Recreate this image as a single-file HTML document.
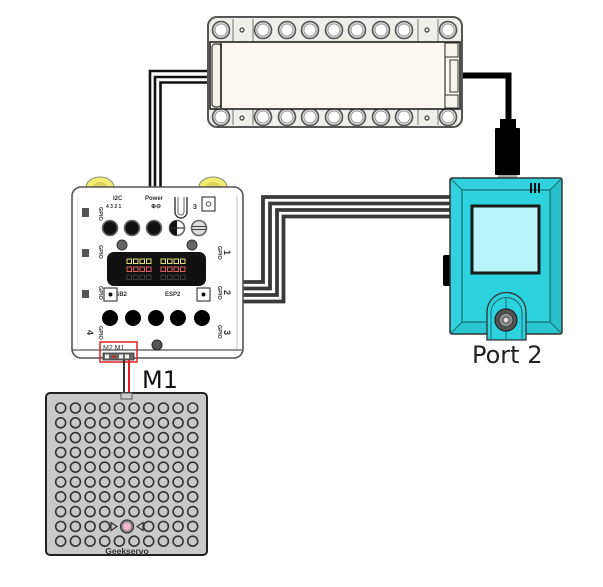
<!DOCTYPE html>
<html><head><meta charset="utf-8"><style>
html,body{margin:0;padding:0;background:#fff;}
svg{display:block;}
</style></head><body>
<svg width="603" height="587" viewBox="0 0 603 587" xmlns="http://www.w3.org/2000/svg">
<rect width="603" height="587" fill="#fff"/>

<!-- wires top-left (controller to top board) -->
<g fill="none" stroke="#111" stroke-width="2.6">
<path d="M209 71 H150 V188"/>
<path d="M209 77 H155 V188"/>
<path d="M209 82.5 H160.5 V188"/>
</g>

<!-- wire top board to device -->
<path d="M456 75.5 H508.5 V121" fill="none" stroke="#000" stroke-width="6"/>

<!-- wires controller to device -->
<g fill="none" stroke="#3a3a3a" stroke-width="3.8">
<path d="M241 282 H263 V197 H451"/>
<path d="M241 288.5 H270 V203.5 H451"/>
<path d="M241 295 H277 V210 H451"/>
<path d="M241 301.5 H283.5 V216.5 H451"/>
</g>

<!-- TOP BOARD -->
<rect x="208" y="17" width="254" height="110" rx="9" fill="#eeeeeb" stroke="#555" stroke-width="2"/>
<g stroke="#777" stroke-width="1">
<line x1="233" y1="19" x2="233" y2="42"/><line x1="253" y1="19" x2="253" y2="42"/>
<line x1="418" y1="19" x2="418" y2="42"/><line x1="438" y1="19" x2="438" y2="42"/>
<line x1="233" y1="109" x2="233" y2="125"/><line x1="253" y1="109" x2="253" y2="125"/>
<line x1="418" y1="109" x2="418" y2="125"/><line x1="438" y1="109" x2="438" y2="125"/>
</g>
<g fill="#dcdcdc" stroke="#555" stroke-width="1.6">
<circle cx="221" cy="30" r="8.5"/><circle cx="263" cy="30" r="8.5"/><circle cx="287" cy="30" r="8.5"/><circle cx="310" cy="30" r="8.5"/><circle cx="334" cy="30" r="8.5"/><circle cx="357" cy="30" r="8.5"/><circle cx="381" cy="30" r="8.5"/><circle cx="404" cy="30" r="8.5"/><circle cx="448" cy="30" r="8.5"/>
<circle cx="221" cy="117" r="8.5"/><circle cx="263" cy="117" r="8.5"/><circle cx="287" cy="117" r="8.5"/><circle cx="310" cy="117" r="8.5"/><circle cx="334" cy="117" r="8.5"/><circle cx="357" cy="117" r="8.5"/><circle cx="381" cy="117" r="8.5"/><circle cx="404" cy="117" r="8.5"/><circle cx="448" cy="117" r="8.5"/>
</g>
<g fill="#fff" stroke="#999" stroke-width="1">
<circle cx="221" cy="30" r="6"/><circle cx="263" cy="30" r="6"/><circle cx="287" cy="30" r="6"/><circle cx="310" cy="30" r="6"/><circle cx="334" cy="30" r="6"/><circle cx="357" cy="30" r="6"/><circle cx="381" cy="30" r="6"/><circle cx="404" cy="30" r="6"/><circle cx="448" cy="30" r="6"/>
<circle cx="221" cy="117" r="6"/><circle cx="263" cy="117" r="6"/><circle cx="287" cy="117" r="6"/><circle cx="310" cy="117" r="6"/><circle cx="334" cy="117" r="6"/><circle cx="357" cy="117" r="6"/><circle cx="381" cy="117" r="6"/><circle cx="404" cy="117" r="6"/><circle cx="448" cy="117" r="6"/>
</g>
<g fill="none" stroke="#444" stroke-width="1.2">
<circle cx="242" cy="30" r="2"/><circle cx="427" cy="30" r="2"/><circle cx="242" cy="118" r="2"/><circle cx="427" cy="118" r="2"/>
</g>
<rect x="210" y="42" width="250" height="67" fill="#fbf8f1" stroke="#222" stroke-width="1.6"/>
<rect x="212" y="44" width="9" height="63" rx="3" fill="#f5f2ea" stroke="#333" stroke-width="1.2"/>
<line x1="221" y1="43" x2="221" y2="108" stroke="#222" stroke-width="1.6"/>
<line x1="445" y1="43" x2="445" y2="108" stroke="#333" stroke-width="1.2"/>
<rect x="445" y="43" width="13" height="14" fill="#f7f4ec" stroke="#333" stroke-width="1"/>
<rect x="450" y="60" width="8" height="32" fill="#f7f4ec" stroke="#333" stroke-width="1"/>
<rect x="445" y="95" width="13" height="13" fill="#f7f4ec" stroke="#333" stroke-width="1"/>

<!-- DEVICE connector -->
<rect x="500" y="119" width="16" height="10" fill="#000"/>
<rect x="495" y="128" width="25" height="47" rx="1" fill="#000"/>
<rect x="498" y="175" width="19" height="3" fill="#aaa"/>

<!-- PORT 2 DEVICE -->
<rect x="443" y="255" width="8" height="31" rx="2" fill="#000"/>
<rect x="450" y="178" width="112" height="156" rx="2" fill="#2fd2de" stroke="#333" stroke-width="1.5"/>
<path d="M550 190 L561 179 L561 333 L550 322 Z" fill="#27bfcb"/>
<path d="M462 322 L451 333 L561 333 L550 322 Z" fill="#29c6d2"/>
<rect x="462" y="190" width="88" height="132" fill="#2cd3df" stroke="#1d6a72" stroke-width="1.2"/>
<g stroke="#1d6a72" stroke-width="1">
<line x1="451" y1="179" x2="462" y2="190"/><line x1="561" y1="179" x2="550" y2="190"/>
<line x1="451" y1="333" x2="462" y2="322"/><line x1="561" y1="333" x2="550" y2="322"/>
</g>
<g stroke="#111" stroke-width="2">
<line x1="531" y1="183" x2="531" y2="193"/><line x1="535" y1="183" x2="535" y2="193"/><line x1="539" y1="183" x2="539" y2="193"/>
</g>
<rect x="472" y="206" width="67" height="67" fill="#b8f5fa" stroke="#1a1a1a" stroke-width="3"/>
<path d="M487 340 V312 A19.5 19.5 0 0 1 526 312 V340 Z" fill="#2cd3df" stroke="#333" stroke-width="1.3"/>
<path d="M491 340 V313 A15.5 15.5 0 0 1 522 313 V340" fill="none" stroke="#1d6a72" stroke-width="1"/>
<line x1="506" y1="297" x2="506" y2="340" stroke="#1d6a72" stroke-width="1"/>
<circle cx="506" cy="320" r="11" fill="#555" stroke="#222" stroke-width="1.2"/>
<circle cx="506" cy="320" r="7" fill="#8a8a8a" stroke="#333" stroke-width="1"/>
<circle cx="506" cy="320" r="3" fill="#ddd" stroke="#333" stroke-width="0.8"/>
<text x="472" y="363" font-family="DejaVu Sans, Liberation Sans, sans-serif" font-size="24" fill="#222">Port 2</text>

<!-- CONTROLLER -->
<ellipse cx="100" cy="187" rx="14" ry="10" fill="#f1ec6f" stroke="#888" stroke-width="1"/>
<ellipse cx="100" cy="187" rx="7" ry="5" fill="#d8d060"/>
<ellipse cx="213" cy="187" rx="14" ry="10" fill="#f1ec6f" stroke="#888" stroke-width="1"/>
<ellipse cx="213" cy="187" rx="7" ry="5" fill="#d8d060"/>
<rect x="72" y="187" width="171" height="171" rx="9" fill="#fff" stroke="#555" stroke-width="1.6"/>
<line x1="72" y1="350" x2="243" y2="350" stroke="#555" stroke-width="1.2"/>
<line x1="237" y1="196" x2="237" y2="350" stroke="#bbb" stroke-width="1"/>
<line x1="78" y1="196" x2="78" y2="350" stroke="#ddd" stroke-width="1"/>

<!-- left icons -->
<rect x="82" y="208" width="7" height="9" fill="#555"/>
<rect x="82" y="249" width="7" height="8" fill="#555"/>
<rect x="82" y="290" width="7" height="8" fill="#555"/>
<g font-family="Liberation Sans, sans-serif" font-size="5.5" font-weight="bold" fill="#333">
<text transform="translate(99,207) rotate(90)">GPIO</text>
<text transform="translate(99,245) rotate(90)">GPIO</text>
<text transform="translate(99,286) rotate(90)">GPIO</text>
<text transform="translate(99,326) rotate(90)">GPIO</text>
<text transform="translate(218,246) rotate(90)">GPIO</text>
<text transform="translate(218,286) rotate(90)">GPIO</text>
<text transform="translate(218,325) rotate(90)">GPIO</text>
<text x="113" y="200" font-size="6">I2C</text>
<text x="106" y="208" font-size="5">4 3 2 1</text>
<text x="145" y="200" font-size="6">Power</text>
<text x="151" y="208" font-size="6">⊕⊖</text>
<text x="193" y="209" font-size="7">3</text>
<text x="111" y="296" font-size="6">USB2</text>
<text x="165" y="296" font-size="6">ESP2</text>
</g>
<g font-family="Liberation Sans, sans-serif" font-size="9" font-weight="bold" fill="#333">
<text transform="translate(224,250) rotate(90)">1</text>
<text transform="translate(224,290) rotate(90)">2</text>
<text transform="translate(224,330) rotate(90)">3</text>
<text transform="translate(87,330) rotate(90)">4</text>
</g>
<path d="M175 197 V212 A6 6 0 0 0 187 212 V197" fill="none" stroke="#444" stroke-width="1.5"/>
<path d="M178 197 V212 A3 3 0 0 0 184 212 V197" fill="none" stroke="#666" stroke-width="1"/>
<rect x="202" y="197" width="13" height="14" fill="#fff" stroke="#444" stroke-width="1.2"/>
<circle cx="208.5" cy="204" r="2.2" fill="none" stroke="#444" stroke-width="1"/>

<!-- row 1 circles -->
<g stroke="#666" stroke-width="1.6">
<circle cx="110" cy="228" r="7.5" fill="#111"/>
<circle cx="132" cy="228" r="7.5" fill="#111"/>
<circle cx="154" cy="228" r="7.5" fill="#111"/>
<circle cx="177" cy="228" r="7.5" fill="#fff"/>
<circle cx="199" cy="228" r="7.5" fill="#ddd"/>
</g>
<path d="M177 220.5 A7.5 7.5 0 0 0 177 235.5 Z" fill="#111"/>
<line x1="170" y1="228" x2="184" y2="228" stroke="#333" stroke-width="1.2"/>
<line x1="192" y1="226.5" x2="206" y2="226.5" stroke="#444" stroke-width="1"/>
<line x1="192" y1="229.5" x2="206" y2="229.5" stroke="#444" stroke-width="1"/>
<circle cx="122" cy="245" r="5" fill="#666" stroke="#333" stroke-width="1"/>
<circle cx="192" cy="245" r="5" fill="#666" stroke="#333" stroke-width="1"/>

<!-- display -->
<rect x="107" y="252" width="99" height="34" rx="7" fill="#111"/>
<g fill="none" stroke-width="1">
<g stroke="#e5df7a">
<rect x="127" y="259" width="4.5" height="4.5"/><rect x="133.5" y="259" width="4.5" height="4.5"/><rect x="140" y="259" width="4.5" height="4.5"/><rect x="146.5" y="259" width="4.5" height="4.5"/>
<rect x="161" y="259" width="4.5" height="4.5"/><rect x="167.5" y="259" width="4.5" height="4.5"/><rect x="174" y="259" width="4.5" height="4.5"/><rect x="180.5" y="259" width="4.5" height="4.5"/>
</g>
<g stroke="#e06060">
<rect x="127" y="267" width="4.5" height="4.5"/><rect x="133.5" y="267" width="4.5" height="4.5"/><rect x="140" y="267" width="4.5" height="4.5"/><rect x="146.5" y="267" width="4.5" height="4.5"/>
<rect x="161" y="267" width="4.5" height="4.5"/><rect x="167.5" y="267" width="4.5" height="4.5"/><rect x="174" y="267" width="4.5" height="4.5"/><rect x="180.5" y="267" width="4.5" height="4.5"/>
</g>
<g stroke="#3a3a3a">
<rect x="127" y="275" width="4.5" height="4.5"/><rect x="133.5" y="275" width="4.5" height="4.5"/><rect x="140" y="275" width="4.5" height="4.5"/><rect x="146.5" y="275" width="4.5" height="4.5"/>
<rect x="161" y="275" width="4.5" height="4.5"/><rect x="167.5" y="275" width="4.5" height="4.5"/><rect x="174" y="275" width="4.5" height="4.5"/><rect x="180.5" y="275" width="4.5" height="4.5"/>
</g>
</g>
<rect x="104" y="288" width="13" height="13" fill="#fff" stroke="#444" stroke-width="1.2"/>
<circle cx="110.5" cy="294.5" r="2" fill="#111"/>
<rect x="197" y="288" width="13" height="13" fill="#fff" stroke="#444" stroke-width="1.2"/>
<circle cx="203.5" cy="294.5" r="2" fill="#111"/>

<!-- row 2 circles -->
<g fill="#000">
<circle cx="110" cy="318" r="8"/><circle cx="133" cy="318" r="8"/><circle cx="156" cy="318" r="8"/><circle cx="178" cy="318" r="8"/><circle cx="202" cy="318" r="8"/>
</g>
<circle cx="157" cy="345" r="5" fill="#555" stroke="#222" stroke-width="1"/>

<!-- M2 M1 box -->
<rect x="100" y="342" width="37" height="20" fill="none" stroke="#e02020" stroke-width="1.5"/>
<text x="103" y="350" font-family="Liberation Sans, sans-serif" font-size="7" fill="#333">M2 M1</text>
<rect x="103" y="353" width="31" height="7" fill="#666" stroke="#333" stroke-width="0.8"/>
<rect x="105" y="354.5" width="4" height="4" fill="#eee"/>
<rect x="119" y="354.5" width="4" height="4" fill="#eee"/>
<rect x="125" y="354.5" width="4" height="4" fill="#eee"/>
<circle cx="114" cy="356.5" r="1.5" fill="#e02020"/>

<!-- servo wire -->
<line x1="124" y1="360" x2="124" y2="396" stroke="#333" stroke-width="2"/>
<line x1="129" y1="360" x2="129" y2="396" stroke="#e02020" stroke-width="2"/>
<text x="142" y="388" font-family="DejaVu Sans, Liberation Sans, sans-serif" font-size="24" fill="#111">M1</text>

<!-- SERVO PANEL -->
<rect x="46" y="393" width="161" height="162" rx="4" fill="#c9c9c9" stroke="#222" stroke-width="2"/>
<rect x="121" y="393" width="11" height="6" fill="#ccc" stroke="#555" stroke-width="1"/>
<g fill="none" stroke="#333" stroke-width="1.6">
<circle cx="60.7" cy="408" r="5"/><circle cx="75.4" cy="408" r="5"/><circle cx="90.1" cy="408" r="5"/><circle cx="104.7" cy="408" r="5"/><circle cx="119.4" cy="408" r="5"/><circle cx="134.1" cy="408" r="5"/><circle cx="148.7" cy="408" r="5"/><circle cx="163.4" cy="408" r="5"/><circle cx="178.1" cy="408" r="5"/><circle cx="192.7" cy="408" r="5"/>
<circle cx="60.7" cy="422.8" r="5"/><circle cx="75.4" cy="422.8" r="5"/><circle cx="90.1" cy="422.8" r="5"/><circle cx="104.7" cy="422.8" r="5"/><circle cx="119.4" cy="422.8" r="5"/><circle cx="134.1" cy="422.8" r="5"/><circle cx="148.7" cy="422.8" r="5"/><circle cx="163.4" cy="422.8" r="5"/><circle cx="178.1" cy="422.8" r="5"/><circle cx="192.7" cy="422.8" r="5"/>
<circle cx="60.7" cy="437.6" r="5"/><circle cx="75.4" cy="437.6" r="5"/><circle cx="90.1" cy="437.6" r="5"/><circle cx="104.7" cy="437.6" r="5"/><circle cx="119.4" cy="437.6" r="5"/><circle cx="134.1" cy="437.6" r="5"/><circle cx="148.7" cy="437.6" r="5"/><circle cx="163.4" cy="437.6" r="5"/><circle cx="178.1" cy="437.6" r="5"/><circle cx="192.7" cy="437.6" r="5"/>
<circle cx="60.7" cy="452.4" r="5"/><circle cx="75.4" cy="452.4" r="5"/><circle cx="90.1" cy="452.4" r="5"/><circle cx="104.7" cy="452.4" r="5"/><circle cx="119.4" cy="452.4" r="5"/><circle cx="134.1" cy="452.4" r="5"/><circle cx="148.7" cy="452.4" r="5"/><circle cx="163.4" cy="452.4" r="5"/><circle cx="178.1" cy="452.4" r="5"/><circle cx="192.7" cy="452.4" r="5"/>
<circle cx="60.7" cy="467.2" r="5"/><circle cx="75.4" cy="467.2" r="5"/><circle cx="90.1" cy="467.2" r="5"/><circle cx="104.7" cy="467.2" r="5"/><circle cx="119.4" cy="467.2" r="5"/><circle cx="134.1" cy="467.2" r="5"/><circle cx="148.7" cy="467.2" r="5"/><circle cx="163.4" cy="467.2" r="5"/><circle cx="178.1" cy="467.2" r="5"/><circle cx="192.7" cy="467.2" r="5"/>
<circle cx="60.7" cy="482" r="5"/><circle cx="75.4" cy="482" r="5"/><circle cx="90.1" cy="482" r="5"/><circle cx="104.7" cy="482" r="5"/><circle cx="119.4" cy="482" r="5"/><circle cx="134.1" cy="482" r="5"/><circle cx="148.7" cy="482" r="5"/><circle cx="163.4" cy="482" r="5"/><circle cx="178.1" cy="482" r="5"/><circle cx="192.7" cy="482" r="5"/>
<circle cx="60.7" cy="496.8" r="5"/><circle cx="75.4" cy="496.8" r="5"/><circle cx="90.1" cy="496.8" r="5"/><circle cx="104.7" cy="496.8" r="5"/><circle cx="119.4" cy="496.8" r="5"/><circle cx="134.1" cy="496.8" r="5"/><circle cx="148.7" cy="496.8" r="5"/><circle cx="163.4" cy="496.8" r="5"/><circle cx="178.1" cy="496.8" r="5"/><circle cx="192.7" cy="496.8" r="5"/>
<circle cx="60.7" cy="511.6" r="5"/><circle cx="75.4" cy="511.6" r="5"/><circle cx="90.1" cy="511.6" r="5"/><circle cx="104.7" cy="511.6" r="5"/><circle cx="119.4" cy="511.6" r="5"/><circle cx="134.1" cy="511.6" r="5"/><circle cx="148.7" cy="511.6" r="5"/><circle cx="163.4" cy="511.6" r="5"/><circle cx="178.1" cy="511.6" r="5"/><circle cx="192.7" cy="511.6" r="5"/>
<circle cx="60.7" cy="526.4" r="5"/><circle cx="75.4" cy="526.4" r="5"/><circle cx="90.1" cy="526.4" r="5"/><circle cx="104.7" cy="526.4" r="5"/><circle cx="148.7" cy="526.4" r="5"/><circle cx="163.4" cy="526.4" r="5"/><circle cx="178.1" cy="526.4" r="5"/><circle cx="192.7" cy="526.4" r="5"/>
<circle cx="60.7" cy="541.2" r="5"/><circle cx="75.4" cy="541.2" r="5"/><circle cx="90.1" cy="541.2" r="5"/><circle cx="104.7" cy="541.2" r="5"/><circle cx="119.4" cy="541.2" r="5"/><circle cx="134.1" cy="541.2" r="5"/><circle cx="148.7" cy="541.2" r="5"/><circle cx="163.4" cy="541.2" r="5"/><circle cx="178.1" cy="541.2" r="5"/><circle cx="192.7" cy="541.2" r="5"/>
</g>
<path d="M111 522.5 L117 526.5 L111 530.5 Z" fill="none" stroke="#333" stroke-width="1.2"/>
<path d="M143 522.5 L137 526.5 L143 530.5 Z" fill="none" stroke="#333" stroke-width="1.2"/>
<circle cx="127" cy="526.5" r="6.5" fill="#888" stroke="#333" stroke-width="1.2"/>
<circle cx="127" cy="526.5" r="4" fill="#f4b6cf"/>
<text x="127" y="554" text-anchor="middle" font-family="Liberation Sans, sans-serif" font-size="8.5" font-weight="bold" fill="#333">Geekservo</text>
</svg>
</body></html>
